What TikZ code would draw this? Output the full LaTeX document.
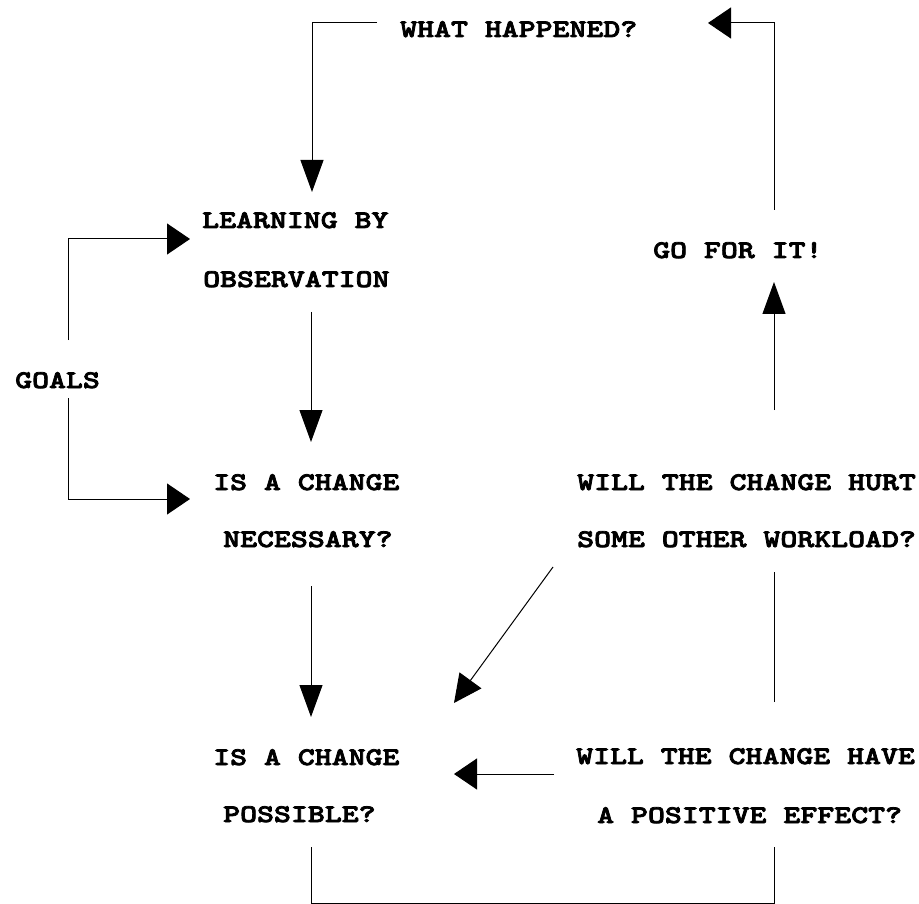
\documentclass[tikz,border=0pt]{standalone}
\usepackage{fontspec}
\usetikzlibrary{arrows.meta}
\newfontfamily\courbold{lmmonolt10-bold.otf}[FakeStretch=1.27,FakeBold=3]
\begin{document}
\begin{tikzpicture}[x=1pt,y=-1pt,
  txt/.style={anchor=base west, inner sep=0pt, font=\courbold\fontsize{25.4pt}{30pt}\selectfont},
  conn/.style={line width=1pt, line join=miter},
  harr/.style={conn,-{Triangle[length=23pt,width=31pt]}},
  varr/.style={conn,-{Triangle[length=32pt,width=23pt]}},
  darr/.style={conn,-{Triangle[length=28pt,width=27pt]}}]
\fill[white] (0,0) rectangle (919,904);
\useasboundingbox (0,0) rectangle (919,904);

% text nodes
\node[txt] (what)  at (400,37)  {WHAT HAPPENED?};
\node[txt] (learn1) at (202,228) {LEARNING BY};
\node[txt] (learn2) at (203,287) {OBSERVATION};
\node[txt] (goals) at (15,388)  {GOALS};
\node[txt] (nec1)  at (213,490) {IS A CHANGE};
\node[txt] (nec2)  at (223,547) {NECESSARY?};
\node[txt] (pos1)  at (213,765) {IS A CHANGE};
\node[txt] (pos2)  at (223,822) {POSSIBLE?};
\node[txt] (go)    at (653,258) {GO FOR IT!};
\node[txt] (hurt1) at (577,490) {WILL THE CHANGE HURT};
\node[txt] (hurt2) at (577,547) {SOME OTHER WORKLOAD?};
\node[txt] (eff1)  at (576,764) {WILL THE CHANGE HAVE};
\node[txt] (eff2)  at (597,823) {A POSITIVE EFFECT?};

% connector end points
\coordinate (whatL) at (377,23);
\coordinate (whatC) at (312,23);
\coordinate (learnT) at (312,192);
\coordinate (goT) at (774,210);
\coordinate (goC) at (774,23);
\coordinate (whatR) at (708,23);
\coordinate (goalsT) at (68,340);
\coordinate (goalsC1) at (68,239);
\coordinate (learnL) at (190,239);
\coordinate (goalsB) at (68,398);
\coordinate (goalsC2) at (68,499);
\coordinate (necL) at (190,499);
\coordinate (learnB) at (311,312);
\coordinate (necT) at (311,442);
\coordinate (necB) at (311,586);
\coordinate (posT) at (311,717);
\coordinate (hurtL) at (553,567);
\coordinate (posTR) at (454,703);
\coordinate (effL) at (554,774);
\coordinate (posR) at (454,774);
\coordinate (effT) at (774,702);
\coordinate (hurtB) at (774,572);
\coordinate (hurtT) at (774,410);
\coordinate (goB) at (774,282);
\coordinate (posB) at (311,847);
\coordinate (posC) at (311,903);
\coordinate (effC) at (774,903);
\coordinate (effB) at (774,847);

% connectors
\draw[varr] (whatL) -- (whatC) -- (learnT);
\draw[harr] (goT) -- (goC) -- (whatR);
\draw[harr] (goalsT) -- (goalsC1) -- (learnL);
\draw[harr] (goalsB) -- (goalsC2) -- (necL);
\draw[varr] (learnB) -- (necT);
\draw[varr] (necB) -- (posT);
\draw[darr] (hurtL) -- (posTR);
\draw[harr] (effL) -- (posR);
\draw[conn] (effT) -- (hurtB);
\draw[varr] (hurtT) -- (goB);
\draw[conn] (posB) -- (posC) -- (effC) -- (effB);
\end{tikzpicture}
\end{document}
